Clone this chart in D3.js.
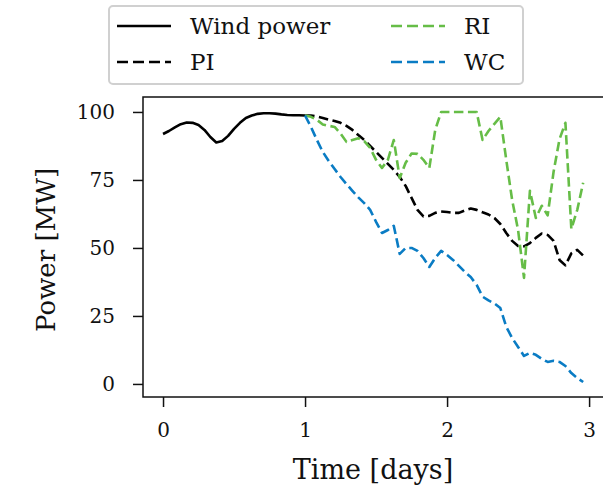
<!DOCTYPE html>
<meta charset="utf-8">
<style>
body { margin: 0; background: #fff; }
svg text { font-family: "DejaVu Serif", "Liberation Serif", serif; fill: #111; }
.axis path, .axis line { stroke: #111; stroke-width: 1.5px; }
.series { fill: none; stroke-width: 2.6px; stroke-linejoin: round; }
</style>
<svg width="603" height="491"></svg>
<script src="https://d3js.org/d3.v7.min.js"></script>
<script>
// hourly samples, time in days
var windPower = [91.9, 93.0, 94.3, 95.5, 96.1, 96.0, 95.2, 93.4, 90.8, 88.8, 89.3, 91.2,
  93.8, 96.0, 97.8, 98.7, 99.3, 99.5, 99.5, 99.4, 99.1, 98.9, 98.8, 98.8, 98.7];
var pi = [98.7, 98.7, 98.3, 97.8, 97.2, 96.7, 96.0, 94.9, 93.4, 91.5, 89.7, 87.5,
  85.3, 83.1, 80.9, 78.7, 76.1, 72.8, 68.4, 64.0, 61.6, 61.8, 62.9, 63.4,
  63.2, 62.9, 62.9, 63.8, 64.5, 64.0, 63.1, 62.3, 61.0, 58.8, 55.5, 52.6,
  50.7, 50.6, 51.8, 53.7, 55.3, 54.8, 52.6, 45.6, 43.6, 48.0, 49.3, 47.2];
var ri = [98.7, 98.2, 97.1, 95.4, 94.9, 94.5, 92.1, 89.0, 89.7, 90.3, 89.3, 86.8,
  82.4, 79.4, 82.4, 89.7, 75.7, 81.3, 84.7, 84.6, 82.4, 79.4, 93.4, 100,
  100, 100, 100, 100, 100, 100, 89.7, 93.0, 95.6, 98.2, 82.4, 67.6,
  56.6, 39.0, 71.0, 61.0, 65.5, 62.0, 78.0, 90.0, 96.0, 57.0, 64.0, 74.0];
var wc = [98.7, 94.5, 89.7, 85.3, 82.0, 79.0, 76.1, 73.5, 71.0, 68.6, 66.5, 64.0,
  59.6, 55.5, 56.6, 58.1, 47.8, 50.0, 50.0, 48.9, 46.3, 43.0, 46.3, 48.9,
  47.4, 45.6, 43.4, 41.2, 39.3, 36.4, 32.1, 30.7, 29.6, 27.9, 21.0, 16.9,
  13.6, 10.3, 11.4, 10.7, 9.2, 8.1, 8.5, 8.1, 6.6, 4.0, 2.2, 0.7];
var xTicks = [0, 1, 2, 3];
var yTicks = [0, 25, 50, 75, 100];
var seriesNames = ["Wind power", "PI", "RI", "WC"];
var colors = {"Wind power": "#000", "PI": "#000", "RI": "#66bd47", "WC": "#0a7cc4"};

var svg = d3.select("svg"),
    margin = {top: 97, right: -2, bottom: 94, left: 143},
    width = +svg.attr("width") - margin.left - margin.right,
    height = +svg.attr("height") - margin.top - margin.bottom,
    g = svg.append("g").attr("transform", "translate(" + margin.left + "," + margin.top + ")");

var x = d3.scaleLinear().domain([-0.141, 3.112]).range([0, width]),
    y = d3.scaleLinear().domain([-4.8, 105.5]).range([height, 0]);

function toPts(vals, t0) {
  return vals.map(function(v, i) { return {t: t0 + i / 24, v: v}; });
}
var series = [
  {name: "Wind power", values: toPts(windPower, 0), dash: null},
  {name: "PI", values: toPts(pi, 1), dash: "9.5,4.5"},
  {name: "RI", values: toPts(ri, 1), dash: "9.5,4.5"},
  {name: "WC", values: toPts(wc, 1), dash: "9.5,4.5"}
];

var line = d3.line()
    .x(function(d) { return x(d.t); })
    .y(function(d) { return y(d.v); });

g.selectAll(".series")
    .data(series)
  .enter().append("path")
    .attr("class", "series")
    .attr("d", function(d) { return line(d.values); })
    .attr("stroke", function(d) { return colors[d.name]; })
    .attr("stroke-dasharray", function(d) { return d.dash; });

// frame
g.append("rect")
    .attr("width", width).attr("height", height)
    .attr("fill", "none").attr("stroke", "#111").attr("stroke-width", 1.5);

g.append("g")
    .attr("class", "axis")
    .attr("transform", "translate(0," + height + ")")
    .call(d3.axisBottom(x).tickValues(xTicks).tickSize(10).tickPadding(16).tickFormat(d3.format("d")))
    .attr("font-family", null).attr("font-size", 20)
    .call(function(a) { a.select(".domain").remove(); });

g.append("g")
    .attr("class", "axis")
    .call(d3.axisLeft(y).tickValues(yTicks).tickSize(10).tickPadding(18))
    .attr("font-family", null).attr("font-size", 20)
    .call(function(a) { a.select(".domain").remove(); });

svg.append("text")
    .attr("x", 373).attr("y", 479)
    .attr("text-anchor", "middle")
    .style("font-size", "27px")
    .text("Time [days]");

svg.append("text")
    .attr("transform", "translate(55,250) rotate(-90)")
    .attr("text-anchor", "middle")
    .style("font-size", "26px")
    .text("Power [MW]");

// legend
var legend = svg.append("g");
legend.append("rect")
    .attr("x", 109).attr("y", 6).attr("width", 414).attr("height", 78).attr("rx", 4)
    .attr("fill", "#fff").attr("stroke", "#d0d0d0").attr("stroke-width", 2);
var pos = {"Wind power": [117, 26], "PI": [117, 62], "RI": [391, 26], "WC": [391, 62]};
seriesNames.forEach(function(n, i) {
  var p = pos[n];
  legend.append("line")
      .attr("x1", p[0]).attr("x2", p[0] + 54).attr("y1", p[1]).attr("y2", p[1])
      .attr("stroke", colors[n]).attr("stroke-width", 2.6)
      .attr("stroke-dasharray", i === 0 ? null : "11,5");
  legend.append("text")
      .attr("x", p[0] + 73).attr("y", p[1] + 8)
      .style("font-size", "23px")
      .text(n);
});
</script>
